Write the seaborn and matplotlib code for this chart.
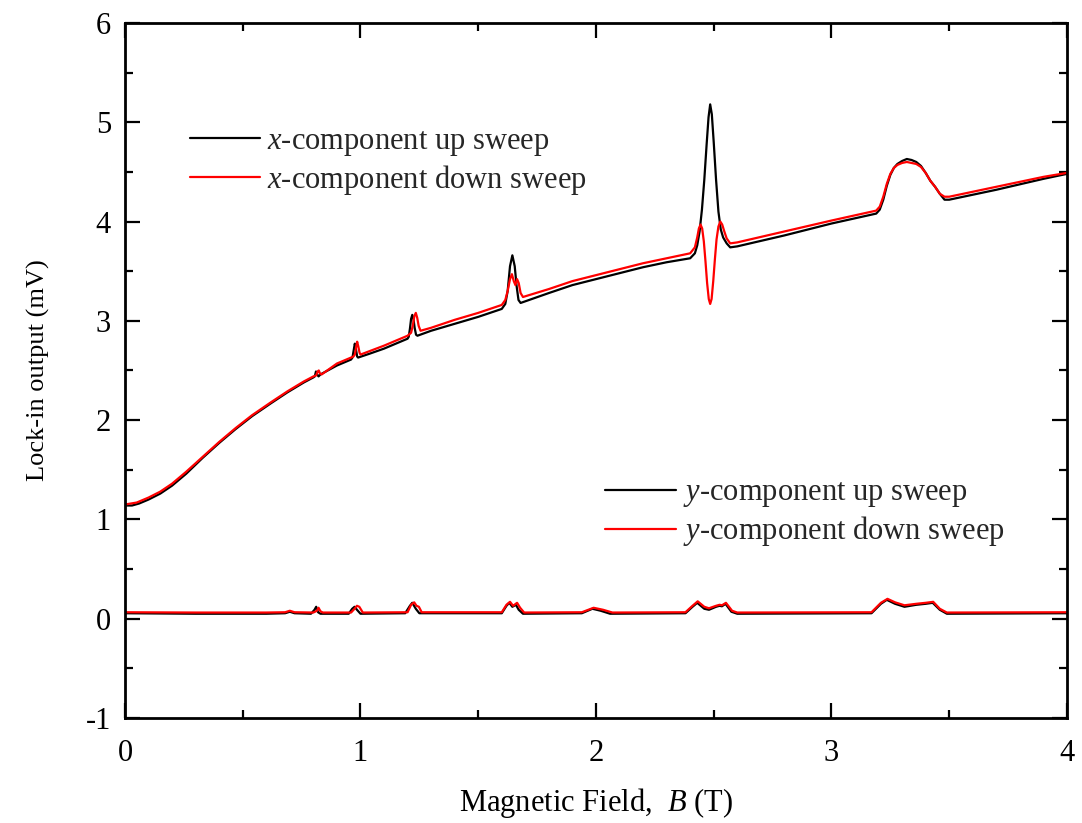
import matplotlib
matplotlib.use("Agg")
import matplotlib.pyplot as plt
import seaborn as sns
import numpy as np
import pandas as pd

# ---- lock-in data (B in tesla, signal in mV) ----
b_x_up = [0.00, 0.03, 0.06, 0.10, 0.15, 0.20, 0.26, 0.33, 0.40, 0.47, 0.54, 0.62,
          0.69, 0.76, 0.80, 0.806, 0.811, 0.816, 0.822, 0.83, 0.90, 0.96, 0.966,
          0.971, 0.976, 0.981, 0.986, 0.99, 1.04, 1.10, 1.20, 1.205, 1.210, 1.215,
          1.220, 1.225, 1.230, 1.236, 1.242, 1.30, 1.40, 1.50, 1.60, 1.615, 1.625,
          1.635, 1.645, 1.655, 1.663, 1.671, 1.68, 1.80, 1.90, 2.00, 2.10, 2.20,
          2.30, 2.40, 2.42, 2.43, 2.44, 2.45, 2.46, 2.47, 2.478, 2.485, 2.492,
          2.50, 2.51, 2.52, 2.53, 2.54, 2.555, 2.57, 2.60, 2.80, 3.00, 3.19, 3.205,
          3.22, 3.235, 3.25, 3.265, 3.28, 3.30, 3.32, 3.34, 3.36, 3.38, 3.40, 3.42,
          3.44, 3.46, 3.48, 3.50, 3.70, 3.90, 4.00]
x_up = [1.14, 1.14, 1.16, 1.20, 1.26, 1.34, 1.46, 1.62, 1.77, 1.91, 2.04, 2.17,
        2.28, 2.38, 2.43, 2.44, 2.49, 2.46, 2.44, 2.46, 2.55, 2.61, 2.63,
        2.70, 2.77, 2.71, 2.64, 2.63, 2.67, 2.72, 2.82, 2.84, 2.92, 3.02,
        3.06, 3.02, 2.93, 2.86, 2.85, 2.90, 2.97, 3.04, 3.12, 3.17, 3.30,
        3.55, 3.66, 3.55, 3.35, 3.21, 3.18, 3.28, 3.36, 3.42, 3.48, 3.54,
        3.59, 3.63, 3.68, 3.76, 3.90, 4.12, 4.42, 4.78, 5.05, 5.18, 5.08,
        4.80, 4.42, 4.10, 3.92, 3.84, 3.78, 3.74, 3.75, 3.86, 3.98, 4.08, 4.12,
        4.22, 4.36, 4.47, 4.54, 4.58, 4.61, 4.63, 4.62, 4.60, 4.56, 4.49, 4.41,
        4.35, 4.28, 4.22, 4.22, 4.32, 4.43, 4.48]

b_x_down = [0.00, 0.05, 0.10, 0.15, 0.20, 0.26, 0.33, 0.40, 0.47, 0.54, 0.62, 0.69,
            0.76, 0.80, 0.812, 0.818, 0.823, 0.828, 0.835, 0.90, 0.97, 0.976, 0.981,
            0.986, 0.991, 0.996, 1.00, 1.10, 1.20, 1.215, 1.222, 1.229, 1.235,
            1.241, 1.247, 1.255, 1.30, 1.40, 1.50, 1.60, 1.615, 1.625, 1.635, 1.643,
            1.651, 1.658, 1.665, 1.672, 1.680, 1.69, 1.80, 1.90, 2.00, 2.10, 2.20,
            2.30, 2.40, 2.42, 2.43, 2.437, 2.444, 2.451, 2.458, 2.465, 2.472, 2.479,
            2.485, 2.491, 2.498, 2.505, 2.512, 2.52, 2.528, 2.536, 2.545, 2.555,
            2.57, 2.60, 2.80, 3.00, 3.19, 3.205, 3.22, 3.235, 3.25, 3.265, 3.28,
            3.30, 3.32, 3.34, 3.36, 3.38, 3.40, 3.42, 3.44, 3.46, 3.48, 3.50, 3.70,
            3.90, 4.00]
x_down = [1.15, 1.17, 1.22, 1.28, 1.36, 1.48, 1.63, 1.78, 1.92, 2.05, 2.18, 2.29,
          2.39, 2.44, 2.45, 2.49, 2.50, 2.47, 2.46, 2.57, 2.64, 2.66, 2.73,
          2.79, 2.74, 2.68, 2.66, 2.75, 2.85, 2.88, 2.95, 3.05, 3.08, 3.03,
          2.95, 2.90, 2.93, 3.01, 3.08, 3.16, 3.21, 3.30, 3.42, 3.47, 3.40,
          3.36, 3.42, 3.38, 3.28, 3.24, 3.32, 3.40, 3.46, 3.52, 3.58,
          3.63, 3.68, 3.74, 3.84, 3.93, 3.97, 3.93, 3.80, 3.60, 3.38, 3.22,
          3.17, 3.22, 3.40, 3.62, 3.82, 3.95, 4.00, 3.97, 3.90, 3.83,
          3.78, 3.79, 3.90, 4.01, 4.11, 4.15, 4.25, 4.38, 4.48, 4.54, 4.57,
          4.59, 4.60, 4.59, 4.58, 4.55, 4.49, 4.41, 4.35, 4.28, 4.25, 4.25, 4.35,
          4.45, 4.49]

b_y_up = [0.00, 0.30, 0.60, 0.68, 0.70, 0.72, 0.79, 0.805, 0.812, 0.82, 0.83, 0.95,
          0.965, 0.975, 0.985, 1.00, 1.19, 1.21, 1.22, 1.235, 1.25, 1.60, 1.62,
          1.632, 1.645, 1.66, 1.672, 1.69, 1.94, 1.985, 2.02, 2.06, 2.38, 2.41,
          2.43, 2.46, 2.48, 2.51, 2.525, 2.535, 2.55, 2.575, 2.60, 3.17, 3.21,
          3.235, 3.27, 3.31, 3.36, 3.40, 3.43, 3.46, 3.49, 4.00]
y_up = [0.055, 0.050, 0.050, 0.055, 0.070, 0.055, 0.050, 0.090, 0.120, 0.065, 0.050, 0.050,
        0.100, 0.120, 0.090, 0.050, 0.055, 0.130, 0.160, 0.100, 0.055, 0.055, 0.130,
        0.160, 0.120, 0.140, 0.090, 0.050, 0.055, 0.100, 0.080, 0.050, 0.055, 0.120,
        0.160, 0.100, 0.090, 0.120, 0.130, 0.125, 0.150, 0.070, 0.050, 0.055, 0.150,
        0.190, 0.150, 0.120, 0.140, 0.150, 0.160, 0.090, 0.050, 0.055]

b_y_down = [0.00, 0.30, 0.60, 0.68, 0.70, 0.72, 0.80, 0.815, 0.822, 0.83, 0.84, 0.96,
            0.975, 0.985, 0.995, 1.01, 1.20, 1.215, 1.228, 1.238, 1.248, 1.26, 1.60,
            1.62, 1.635, 1.648, 1.665, 1.678, 1.695, 1.94, 1.99, 2.03, 2.07, 2.38,
            2.41, 2.432, 2.46, 2.48, 2.51, 2.525, 2.535, 2.552, 2.578, 2.60, 3.17,
            3.21, 3.238, 3.27, 3.31, 3.36, 3.40, 3.432, 3.46, 3.49, 4.00]
y_down = [0.065, 0.062, 0.062, 0.065, 0.080, 0.065, 0.062, 0.080, 0.110, 0.075, 0.062, 0.062,
          0.100, 0.130, 0.120, 0.062, 0.065, 0.140, 0.165, 0.130, 0.120, 0.065, 0.065,
          0.140, 0.170, 0.130, 0.160, 0.110, 0.062, 0.065, 0.110, 0.090, 0.062, 0.065,
          0.130, 0.175, 0.120, 0.105, 0.130, 0.140, 0.135, 0.160, 0.080, 0.062, 0.065,
          0.160, 0.200, 0.165, 0.135, 0.150, 0.160, 0.170, 0.100, 0.062, 0.065]

x_ticks = [0, 1, 2, 3, 4]
y_ticks = [-1, 0, 1, 2, 3, 4, 5, 6]
y_tick_labels = ["-1", "0", "1", "2", "3", "4", "5", "6"]

# ---- style ----
sns.set_theme(style="ticks")
plt.rcParams["font.family"] = ["Liberation Serif", "DejaVu Serif"]
plt.rcParams["mathtext.fontset"] = "custom"
plt.rcParams["mathtext.rm"] = "Liberation Serif"
plt.rcParams["mathtext.it"] = "Liberation Serif:italic"
plt.rcParams["font.size"] = 22

fig = plt.figure(figsize=(10.82, 8.23), dpi=100)
ax = fig.add_axes([0.1155, 0.1276, 0.8706, 0.8445])

series = [
    (b_x_up, x_up, "black", r"$x$-component up sweep"),
    (b_x_down, x_down, "#ff0000", r"$x$-component down sweep"),
    (b_y_up, y_up, "black", r"$y$-component up sweep"),
    (b_y_down, y_down, "#ff0000", r"$y$-component down sweep"),
]
for b, v, col, lab in series:
    df = pd.DataFrame({"B": b, "V": v})
    sns.lineplot(data=df, x="B", y="V", ax=ax, color=col, lw=1.6,
                 estimator=None, sort=False, label=lab, legend=False)

ax.set_xlim(0, 4)
ax.set_ylim(-1, 6)
ax.set_xticks(x_ticks)
ax.set_xticklabels([str(t) for t in x_ticks])
ax.set_yticks(y_ticks)
ax.set_yticklabels(y_tick_labels)
ax.set_xticks(np.arange(0.5, 4, 1.0), minor=True)
ax.set_yticks(np.arange(-0.5, 6, 1.0), minor=True)

ax.tick_params(which="both", direction="in", top=True, right=True,
               color="black", labelsize=22, labelcolor="black")
ax.tick_params(which="major", length=11, width=1.6)
ax.tick_params(which="minor", length=6, width=1.6)
ax.tick_params(axis="x", which="major", pad=15)
ax.tick_params(axis="y", which="major", pad=10)
for s in ax.spines.values():
    s.set_visible(True)
    s.set_linewidth(2.0)
    s.set_color("black")

ax.set_xlabel(r"Magnetic Field,  $B$ (T)", fontsize=22, labelpad=13, color="black")
ax.set_ylabel("Lock-in output (mV)", fontsize=19, labelpad=26, color="black")

h = ax.get_lines()
leg_kw = dict(loc="upper left", frameon=False, fontsize=22, handlelength=2.3,
              handletextpad=0.23, labelspacing=0.17, borderpad=0, borderaxespad=0)
leg1 = ax.legend(h[0:2], [series[0][3], series[1][3]],
                 bbox_to_anchor=(0.069, 0.851), **leg_kw)
ax.add_artist(leg1)
ax.legend(h[2:4], [series[2][3], series[3][3]],
          bbox_to_anchor=(0.51, 0.345), **leg_kw)

fig.savefig("out.png", dpi=100)
